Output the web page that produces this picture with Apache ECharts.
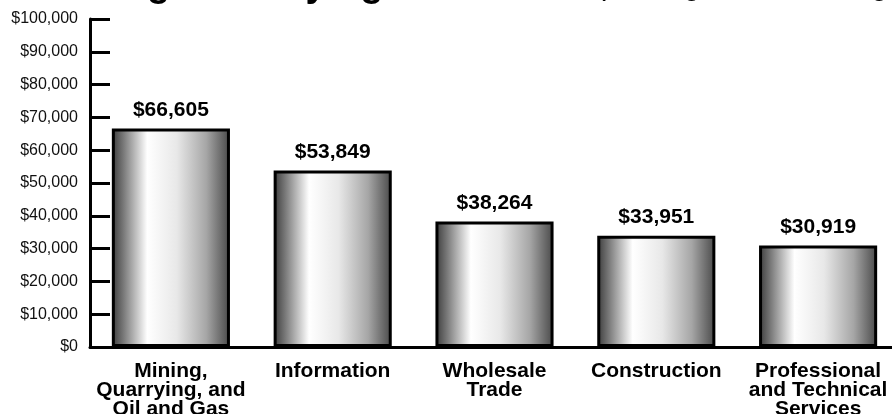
<!DOCTYPE html>
<html>
<head>
<meta charset="utf-8">
<script src="https://cdn.jsdelivr.net/npm/echarts@6/dist/echarts.min.js"></script>
<style>
html,body{margin:0;padding:0;background:#fff;}
#chart{width:892px;height:414px;}
</style>
</head>
<body>
<div id="chart"></div>
<script>
const titleMain = 'Highest Paying Industries';
const titleSub = '(Average Annual Wage)';
const categories = ['Mining,\nQuarrying, and\nOil and Gas', 'Information', 'Wholesale\nTrade', 'Construction', 'Professional\nand Technical\nServices'];
const wages = [66605, 53849, 38264, 33951, 30919];
const yMin = 0, yMax = 100000, yStep = 10000;

const chart = echarts.init(document.getElementById('chart'));
const barFill = new echarts.graphic.LinearGradient(0, 0, 1, 0, [
  {offset: 0, color: '#3a3a3a'},
  {offset: 0.1, color: '#7a7a7a'},
  {offset: 0.3, color: '#ffffff'},
  {offset: 0.55, color: '#e8e8e8'},
  {offset: 0.8, color: '#a6a6a6'},
  {offset: 1, color: '#484848'}
]);
chart.setOption({
  animation: false,
  backgroundColor: '#fff',
  graphic: [
    {type: 'text', x: 109, y: -42, silent: true,
     style: {text: titleMain, font: 'bold 38px "Liberation Sans", Arial, sans-serif', lineHeight: 56, fill: '#000', verticalAlign: 'top'}},
    {type: 'text', x: 596, y: -38, silent: true,
     style: {text: titleSub, font: '30px "Liberation Sans", Arial, sans-serif', lineHeight: 50, fill: '#000', verticalAlign: 'top'}}
  ],
  grid: {left: 90, right: -7, top: 19, bottom: 67, containLabel: false, outerBoundsMode: 'none'},
  xAxis: {
    type: 'category',
    data: categories,
    axisLine: {lineStyle: {color: '#000', width: 3}},
    axisTick: {inside: true, length: 5, lineStyle: {color: '#000', width: 2}},
    axisLabel: {
      interval: 0, margin: 15, color: '#000',
      fontFamily: '"Liberation Sans", Arial, sans-serif',
      fontWeight: 'bold', fontSize: 21, lineHeight: 19
    }
  },
  yAxis: {
    type: 'value', min: yMin, max: yMax, interval: yStep,
    splitLine: {show: false},
    axisLine: {show: true, lineStyle: {color: '#000', width: 3}},
    axisTick: {show: true, inside: true, length: 20, lineStyle: {color: '#000', width: 3}},
    axisLabel: {
      margin: 12, color: '#111', fontSize: 16,
      fontFamily: '"Liberation Sans", Arial, sans-serif',
      formatter: v => '$' + v.toLocaleString('en-US')
    }
  },
  series: [{
    type: 'bar',
    data: wages,
    barWidth: '73%',
    itemStyle: {color: barFill, borderColor: '#000', borderWidth: 3},
    label: {
      show: true, position: 'top', distance: 8, color: '#000',
      fontFamily: '"Liberation Sans", Arial, sans-serif',
      fontWeight: 'bold', fontSize: 21,
      formatter: p => '$' + p.value.toLocaleString('en-US')
    }
  }]
});
</script>
</body>
</html>
